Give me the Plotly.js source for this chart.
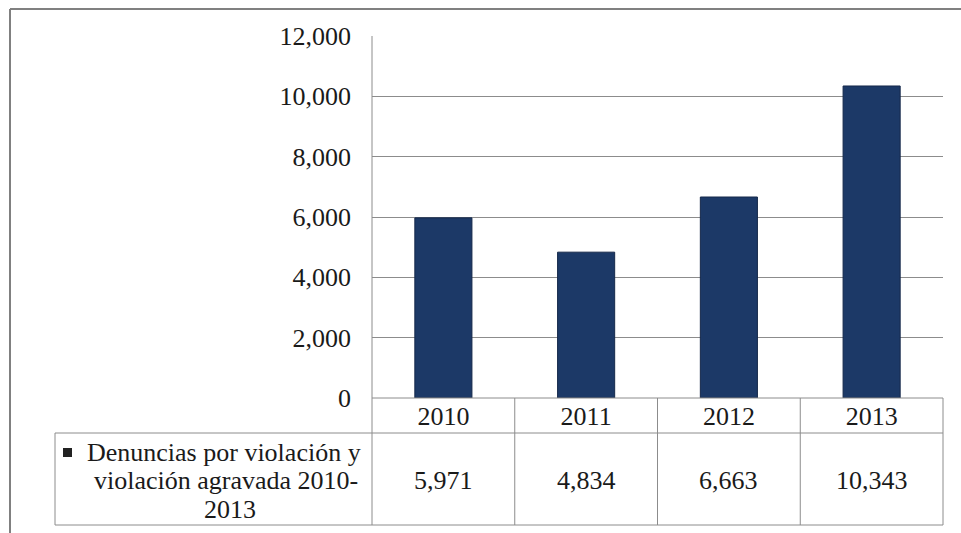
<!DOCTYPE html>
<html>
<head>
<meta charset="utf-8">
<script src="https://cdn.plot.ly/plotly-3.0.1.min.js"></script>
<style>html,body{margin:0;padding:0;background:#fff;}#chart{width:961px;height:533px;}</style>
</head>
<body>
<div id="chart"></div>
<script>
const years = ['2010', '2011', '2012', '2013'];
const denuncias = [5971, 4834, 6663, 10343];
const seriesName = 'Denuncias por violación y violación agravada 2010-2013';
const seriesLabelLines = ['Denuncias por violación y', 'violación agravada 2010-', '2013'];
const yTicks = [0, 2000, 4000, 6000, 8000, 10000, 12000];

const W = 961, H = 533;
const M = {l: 372, r: 18, t: 36, b: 135};
const pw = W - M.l - M.r, ph = H - M.t - M.b;
const px = v => (v - M.l) / pw;
const py = v => (H - M.b - v) / ph;

const FONT = '"Liberation Serif", "Times New Roman", serif';
const FS = 26;
const TXT = '#1a1a1a';
const LINE = '#8c8c8c';
const BAR = '#1c3967';

const fmt = v => v.toLocaleString('en-US');

const shapes = [];
function hline(x0, x1, y, color, w) {
  shapes.push({type: 'line', xref: 'paper', yref: 'paper', x0: px(x0), x1: px(x1), y0: py(y), y1: py(y), line: {color: color || LINE, width: w || 1}});
}
function vlineP(x, y0, y1, color, w) {
  shapes.push({type: 'line', xref: 'paper', yref: 'paper', x0: px(x), x1: px(x), y0: py(y0), y1: py(y1), line: {color: color || LINE, width: w || 1}});
}
// outer chart border
hline(10, 965, 9, '#808080', 2);
vlineP(10, 9, 540, '#808080', 2);
// data table grid
hline(372, 943, 398);
hline(55, 943, 433);
hline(55, 943, 525);
vlineP(55, 433, 525);
vlineP(372, 36, 525);
vlineP(943, 398, 525);
for (let i = 0; i < years.length - 1; i++) {
  shapes.push({type: 'line', xref: 'x', yref: 'paper', x0: i + 0.5, x1: i + 0.5, y0: py(398), y1: py(525), line: {color: LINE, width: 1}});
}
// legend key square
shapes.push({type: 'rect', xref: 'paper', yref: 'paper', x0: px(63), x1: px(72), y0: py(448), y1: py(457), fillcolor: '#222', line: {width: 0}});

const annotations = years.map((y, i) => ({
  x: i, xref: 'x', y: py(481), yref: 'paper', text: fmt(denuncias[i]), showarrow: false,
  xanchor: 'center', yanchor: 'middle', font: {family: FONT, size: FS, color: TXT}
}));
const labelCenters = [224, 226, 230];
const labelRows = [453, 481, 509];
seriesLabelLines.forEach((t, k) => {
  annotations.push({
    x: px(labelCenters[k]), xref: 'paper', y: py(labelRows[k]), yref: 'paper', text: t,
    showarrow: false, xanchor: 'center', yanchor: 'middle',
    font: {family: FONT, size: FS, color: TXT}
  });
});

const data = [{
  type: 'bar', x: years, y: denuncias, name: seriesName,
  marker: {color: BAR, line: {color: '#15284a', width: 1}},
  hoverinfo: 'x+y'
}];

const layout = {
  width: W, height: H,
  margin: M,
  paper_bgcolor: '#ffffff', plot_bgcolor: '#ffffff',
  showlegend: false,
  bargap: 0.6,
  font: {family: FONT, size: FS, color: TXT},
  xaxis: {
    type: 'category', categoryorder: 'array', categoryarray: years,
    range: [-0.5, years.length - 0.5], fixedrange: true,
    showgrid: false, zeroline: false, showline: false,
    ticks: '', ticklabelstandoff: 0,
    tickfont: {family: FONT, size: FS, color: TXT}
  },
  yaxis: {
    range: [0, 12000], tickvals: yTicks, ticktext: yTicks.map(fmt),
    showgrid: true, gridcolor: LINE, gridwidth: 1, zeroline: false,
    showline: false, ticks: '', ticklabelstandoff: 20,
    tickfont: {family: FONT, size: FS, color: TXT}
  },
  shapes: shapes,
  annotations: annotations
};

Plotly.newPlot('chart', data, layout, {displayModeBar: false, staticPlot: true});
</script>
</body>
</html>
